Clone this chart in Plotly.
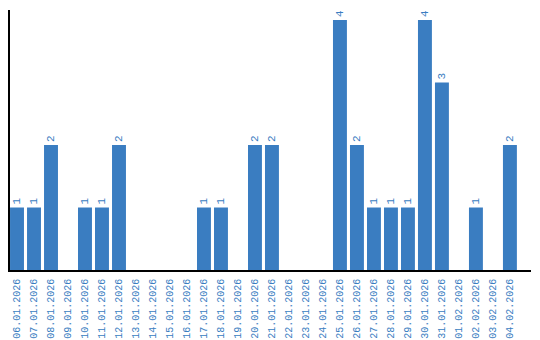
import plotly.graph_objects as go

dates = ["06.01.2026", "07.01.2026", "08.01.2026", "09.01.2026", "10.01.2026",
         "11.01.2026", "12.01.2026", "13.01.2026", "14.01.2026", "15.01.2026",
         "16.01.2026", "17.01.2026", "18.01.2026", "19.01.2026", "20.01.2026",
         "21.01.2026", "22.01.2026", "23.01.2026", "24.01.2026", "25.01.2026",
         "26.01.2026", "27.01.2026", "28.01.2026", "29.01.2026", "30.01.2026",
         "31.01.2026", "01.02.2026", "02.02.2026", "03.02.2026", "04.02.2026"]
counts = [1, 1, 2, 0, 1, 1, 2, 0, 0, 0,
          0, 1, 1, 0, 2, 2, 0, 0, 0, 4,
          2, 1, 1, 1, 4, 3, 0, 1, 0, 2]

BLUE = "#3a7dc1"
FONT = "Liberation Mono"

labels = [str(v) if v > 0 else "" for v in counts]

fig = go.Figure(go.Bar(
    x=dates, y=counts,
    marker=dict(color=BLUE, line=dict(width=0)),
    text=labels, textposition="outside", textangle=-90,
    textfont=dict(family=FONT, size=11, color=BLUE),
    cliponaxis=False,
))

fig.update_layout(
    width=540, height=340,
    margin=dict(l=10, r=9, t=10, b=70, autoexpand=False),
    paper_bgcolor="white", plot_bgcolor="white",
    bargap=0.18,
    showlegend=False,
)
fig.update_xaxes(
    type="category",
    range=[-0.412, 30.24],
    tickangle=-90,
    tickfont=dict(family=FONT, size=10, color=BLUE),
    showline=True, linecolor="black", linewidth=1.5,
    showgrid=False, ticks="outside", ticklen=3, tickcolor="white",
    zeroline=False, automargin=False,
)
fig.update_yaxes(
    range=[0, 4.16],
    showticklabels=False,
    showline=True, linecolor="black", linewidth=1.5,
    showgrid=False, ticks="", zeroline=False, automargin=False,
)

fig.write_html("out.html")
